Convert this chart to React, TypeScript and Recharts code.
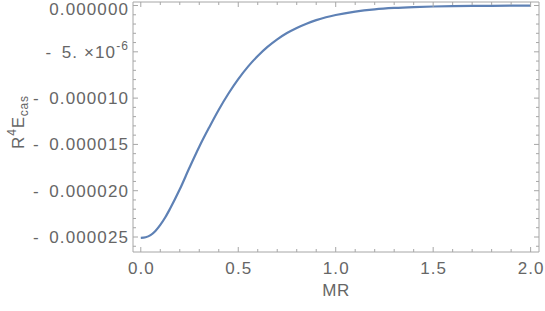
import React from 'react';
import { LineChart, Line, XAxis, YAxis } from 'recharts';

// MR values (x) and R^4 E_cas values (y)
const mrValues = [
  0, 0.025, 0.05, 0.075, 0.1, 0.125, 0.15, 0.2, 0.25, 0.3, 0.35, 0.4, 0.45, 0.5, 0.55, 0.6, 0.65,
  0.7, 0.75, 0.8, 0.85, 0.9, 0.95, 1.0, 1.1, 1.2, 1.3, 1.4, 1.5, 1.6, 1.7, 1.8, 2.0,
];
const energyValues = [
  -25.1e-6, -25.03e-6, -24.8e-6, -24.35e-6, -23.7e-6, -22.9e-6, -21.95e-6, -19.85e-6, -17.5e-6,
  -15.25e-6, -13.2e-6, -11.25e-6, -9.5e-6, -7.95e-6, -6.6e-6, -5.45e-6, -4.47e-6, -3.65e-6,
  -2.97e-6, -2.42e-6, -1.96e-6, -1.58e-6, -1.27e-6, -1.02e-6, -0.65e-6, -0.41e-6, -0.26e-6,
  -0.165e-6, -0.105e-6, -0.068e-6, -0.044e-6, -0.028e-6, -0.012e-6,
];

const xMajor = [0, 0.5, 1.0, 1.5, 2.0];
const xMajorLabels = ['0.0', '0.5', '1.0', '1.5', '2.0'];
const xTicks = [0, 0.1, 0.2, 0.3, 0.4, 0.5, 0.6, 0.7, 0.8, 0.9, 1.0, 1.1, 1.2, 1.3, 1.4, 1.5, 1.6, 1.7, 1.8, 1.9, 2.0];

const yMajor = [0, -5e-6, -10e-6, -15e-6, -20e-6, -25e-6];
const yMajorLabels = ['0.000000', 'sci', '-\u20020.000010', '-\u20020.000015', '-\u20020.000020', '-\u20020.000025'];
const yTicks = [
  0, -1e-6, -2e-6, -3e-6, -4e-6, -5e-6, -6e-6, -7e-6, -8e-6, -9e-6, -10e-6, -11e-6, -12e-6, -13e-6,
  -14e-6, -15e-6, -16e-6, -17e-6, -18e-6, -19e-6, -20e-6, -21e-6, -22e-6, -23e-6, -24e-6, -25e-6, -26e-6,
];

const xDomain = [-0.04, 2.043];
const yDomain = [-26.62e-6, 0.38e-6];

const data = mrValues.map((mr, i) => ({ mr, e: energyValues[i] }));

const FRAME = '#a6a6a6';
const TEXT = '#666666';
const LINE = '#5e81b5';
const FONT = '"Liberation Sans", Arial, sans-serif';
const FS = 17;
const LS = 1.1;

const isMajorX = (v: number) => xMajor.findIndex((m) => Math.abs(m - v) < 1e-9);
const isMajorY = (v: number) => yMajor.findIndex((m) => Math.abs(m - v) < 1e-12);

const BottomTick = (props: any) => {
  const { x, y, payload } = props;
  const i = isMajorX(payload.value);
  return (
    <g>
      <line x1={x} x2={x} y1={y} y2={y - (i >= 0 ? 5 : 3)} stroke={FRAME} />
      {i >= 0 && (
        <text x={x + LS / 2} y={y + 22} textAnchor="middle" fill={TEXT} fontSize={FS} fontFamily={FONT} letterSpacing={LS}>
          {xMajorLabels[i]}
        </text>
      )}
    </g>
  );
};

const TopTick = (props: any) => {
  const { x, y, payload } = props;
  const i = isMajorX(payload.value);
  return <line x1={x} x2={x} y1={y} y2={y + (i >= 0 ? 5 : 3)} stroke={FRAME} />;
};

const LeftTick = (props: any) => {
  const { x, y, payload } = props;
  const i = isMajorY(payload.value);
  let label: React.ReactNode = null;
  if (i >= 0) {
    const base = i === 0 ? y + 9 : y + 6;
    if (yMajorLabels[i] === 'sci') {
      label = (
        <text x={x - 4} y={base} textAnchor="end" fill={TEXT} fontSize={FS} fontFamily={FONT} letterSpacing={LS}>
          {'-\u20025. ×10'}
          <tspan dy={-8} fontSize={12}>-6</tspan>
        </text>
      );
    } else {
      label = (
        <text x={x - 4} y={base} textAnchor="end" fill={TEXT} fontSize={FS} fontFamily={FONT} letterSpacing={LS}>
          {yMajorLabels[i]}
        </text>
      );
    }
  }
  return (
    <g>
      <line x1={x} x2={x + (i >= 0 ? 5 : 3)} y1={y} y2={y} stroke={FRAME} />
      {label}
    </g>
  );
};

const RightTick = (props: any) => {
  const { x, y, payload } = props;
  const i = isMajorY(payload.value);
  return <line x1={x} x2={x - (i >= 0 ? 5 : 3)} y1={y} y2={y} stroke={FRAME} />;
};

const XLabel = (props: any) => {
  const vb = props.viewBox || {};
  const cx = vb.x + vb.width / 2;
  return (
    <text x={cx} y={vb.y + 44} textAnchor="middle" fill={TEXT} fontSize={FS} fontFamily={FONT} letterSpacing={0.5}>
      MR
    </text>
  );
};

const YLabel = (props: any) => {
  const vb = props.viewBox || {};
  const bx = vb.x + 24;
  const cy = vb.y + vb.height / 2 - 5;
  return (
    <text transform={`rotate(-90, ${bx}, ${cy})`} x={bx} y={cy} textAnchor="middle" fill={TEXT} fontSize={FS} fontFamily={FONT} letterSpacing={0.8}>
      R<tspan dy={-8} fontSize={12}>4</tspan>
      <tspan dy={8}>E</tspan>
      <tspan dy={4} fontSize={12}>cas</tspan>
    </text>
  );
};

export default function App() {
  return (
    <div style={{ position: 'absolute', left: 0, top: 0, background: '#fff' }}>
      <LineChart width={545} height={311} data={data} margin={{ top: 0, right: 0, bottom: 0, left: 0 }}>
        <XAxis
          dataKey="mr"
          type="number"
          domain={xDomain}
          ticks={xTicks}
          interval={0}
          allowDataOverflow
          height={59}
          tickSize={0}
          tickMargin={0}
          tickLine={false}
          axisLine={{ stroke: FRAME }}
          tick={<BottomTick />}
          label={<XLabel />}
        />
        <XAxis
          xAxisId="top"
          orientation="top"
          dataKey="mr"
          type="number"
          domain={xDomain}
          ticks={xTicks}
          interval={0}
          allowDataOverflow
          height={2}
          tickSize={0}
          tickMargin={0}
          tickLine={false}
          axisLine={{ stroke: FRAME }}
          tick={<TopTick />}
        />
        <YAxis
          type="number"
          domain={yDomain}
          ticks={yTicks}
          interval={0}
          allowDataOverflow
          width={133}
          tickSize={0}
          tickMargin={0}
          tickLine={false}
          axisLine={{ stroke: FRAME }}
          tick={<LeftTick />}
          label={<YLabel />}
        />
        <YAxis
          yAxisId="right"
          orientation="right"
          type="number"
          domain={yDomain}
          ticks={yTicks}
          interval={0}
          allowDataOverflow
          width={6}
          tickSize={0}
          tickMargin={0}
          tickLine={false}
          axisLine={{ stroke: FRAME }}
          tick={<RightTick />}
        />
        <Line
          type="monotone"
          dataKey="e"
          stroke={LINE}
          strokeWidth={2.2}
          dot={false}
          isAnimationActive={false}
        />
      </LineChart>
    </div>
  );
}
